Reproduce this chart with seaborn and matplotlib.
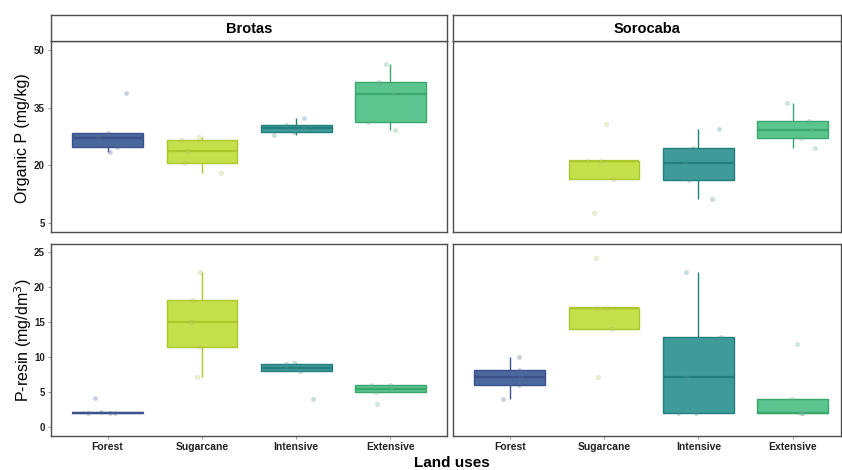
import numpy as np
import pandas as pd
import matplotlib
matplotlib.use("Agg")
import matplotlib.pyplot as plt
import seaborn as sns

# categories
land_uses = ["Forest", "Sugarcane", "Intensive", "Extensive"]
sites = ["Brotas", "Sorocaba"]

orgp_brotas = [[23.6, 24.7, 27.0, 28.3, 38.8],
               [18.0, 20.6, 23.7, 26.7, 27.5],
               [28.0, 28.7, 29.6, 30.6, 32.4],
               [29.2, 31.2, 38.4, 41.7, 46.3]]
orgp_sorocaba = [[],
                 [7.8, 16.4, 21.2, 21.2, 30.7],
                 [11.3, 16.2, 20.6, 24.6, 29.5],
                 [24.6, 27.2, 29.2, 31.5, 36.1]]
presin_brotas = [[2.0, 2.1, 2.1, 2.2, 4.2],
                 [7.2, 11.4, 15.0, 18.1, 22.1],
                 [4.1, 8.0, 8.5, 9.0, 9.2],
                 [3.3, 5.1, 5.5, 6.0, 6.1]]
presin_sorocaba = [[4.1, 6.1, 7.2, 8.1, 10.0],
                   [7.2, 14.0, 17.0, 17.0, 24.1],
                   [2.0, 2.1, 7.2, 12.9, 22.1],
                   [2.0, 2.1, 2.1, 4.1, 11.9]]

fill_colors = ["#4a679e", "#c5e04a", "#3f9a9a", "#5cc48e"]
edge_colors = ["#3b528b", "#aac82e", "#217f7c", "#3aa86c"]

# long table
rows = []
for var, per_site in [("orgp", [orgp_brotas, orgp_sorocaba]),
                      ("presin", [presin_brotas, presin_sorocaba])]:
    for site, groups in zip(sites, per_site):
        for lu, vals in zip(land_uses, groups):
            for v in vals:
                rows.append({"var": var, "site": site, "land": lu, "value": v})
df = pd.DataFrame(rows)

plt.rcParams["font.family"] = ["Liberation Sans", "DejaVu Sans"]
fig = plt.figure(figsize=(8.42, 4.70), dpi=100)
W, H = 842, 470

def px_axes(x0, y0, x1, y1):
    return fig.add_axes([x0 / W, 1 - y1 / H, (x1 - x0) / W, (y1 - y0) / H])

panel_x = [(51, 447), (453, 841)]
panel_y = {"orgp": (41, 232), "presin": (244, 436)}
ylims = {"orgp": (2.77, 52.25), "presin": (-1.23, 26.1)}
yticks = {"orgp": [5, 20, 35, 50], "presin": [0, 5, 10, 15, 20, 25]}
xlims = [(-0.6, 3.6), (-0.6, 3.51)]
spine_col = "#4d4d4d"

np.random.seed(3)
for var in ["orgp", "presin"]:
    for j, site in enumerate(sites):
        x0, x1 = panel_x[j]
        y0, y1 = panel_y[var]
        ax = px_axes(x0, y0, x1, y1)
        sub = df[(df["var"] == var) & (df["site"] == site)]
        for i, lu in enumerate(land_uses):
            d = sub[sub["land"] == lu]
            if d.empty:
                continue
            sns.boxplot(data=d, x="land", y="value", order=land_uses, ax=ax,
                        color=fill_colors[i], linecolor=edge_colors[i], saturation=1,
                        width=0.75, showcaps=False, showfliers=False, linewidth=1.0,
                        medianprops={"linewidth": 1.6})
            sns.stripplot(data=d, x="land", y="value", order=land_uses, ax=ax,
                          color=fill_colors[i], alpha=0.3, size=3.0, jitter=0.25,
                          edgecolor="#888888", linewidth=0.4, zorder=3)
        ax.set_xlim(*xlims[j])
        ax.set_ylim(*ylims[var])
        ax.set_yticks(yticks[var])
        ax.set_xlabel("")
        ax.set_ylabel("")
        for s in ax.spines.values():
            s.set_color(spine_col)
            s.set_linewidth(1.0)
        ax.tick_params(axis="both", length=2.5, width=0.6, color="#888888",
                       labelsize=7, labelcolor="#222222", pad=2)
        for lab in ax.get_yticklabels() + ax.get_xticklabels():
            lab.set_fontweight("bold")
        if j == 1:
            ax.tick_params(axis="y", left=False, labelleft=False)
        if var == "orgp":
            ax.tick_params(axis="x", bottom=False, labelbottom=False)
            # strip on top
            st = px_axes(x0, 15, x1, 41)
            st.set_xticks([])
            st.set_yticks([])
            for s in st.spines.values():
                s.set_color(spine_col)
                s.set_linewidth(1.0)
            st.text(0.5, 0.48, site, ha="center", va="center", fontsize=10.5,
                    fontweight="bold", transform=st.transAxes)
        else:
            ax.set_xticks(range(len(land_uses)))
            ax.set_xticklabels(land_uses, fontsize=7.5, fontweight="bold")

fig.text(23 / W, 1 - 138 / H, "Organic P (mg/kg)", rotation=90,
         ha="center", va="center", fontsize=11.5)
fig.text(23 / W, 1 - 340 / H, r"P-resin (mg/dm$^3$)", rotation=90,
         ha="center", va="center", fontsize=11.5)
fig.text(452 / W, 1 - 463 / H, "Land uses", ha="center", va="center",
         fontsize=11, fontweight="bold")

fig.savefig("out.png", dpi=100)
